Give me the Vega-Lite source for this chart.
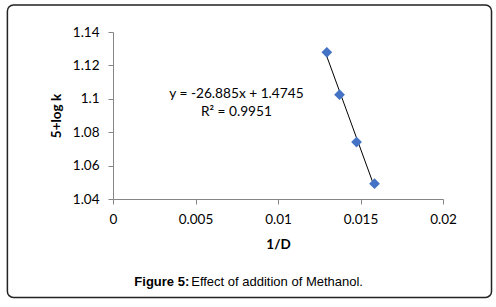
{
  "$schema": "https://vega.github.io/schema/vega-lite/v6.json",
  "width": 330,
  "height": 167,
  "padding": {"left": 6, "top": 4, "right": 4, "bottom": 8},
  "background": "white",
  "config": {
    "view": {"stroke": null},
    "font": "Lato",
    "axis": {"grid": false, "domainColor": "#868686", "tickColor": "#868686", "tickSize": 5, "labelColor": "#000000", "labelFont": "Lato", "labelFontSize": 13.5, "labelOverlap": false, "labelFlush": false, "titleFont": "Lato", "titleFontSize": 13.5, "titleFontWeight": "bold", "titleColor": "#000000"},
    "axisX": {"format": "~g", "labelPadding": 8, "titlePadding": 12},
    "axisY": {"format": "~g", "labelPadding": 9, "titlePadding": 9}
  },
  "datasets": {
    "points": [
      {"invD": 0.01296, "logk": 1.1278},
      {"invD": 0.01373, "logk": 1.1025},
      {"invD": 0.01476, "logk": 1.0741},
      {"invD": 0.01585, "logk": 1.0492}
    ]
  },
  "layer": [
    {
      "data": {"values": [{}]},
      "mark": {"type": "rect", "fill": null, "stroke": "#222222", "strokeWidth": 1.5, "cornerRadius": 6},
      "encoding": {
        "x": {"datum": -0.0064, "type": "quantitative", "title": "1/D",
          "scale": {"domain": [0, 0.02], "nice": false, "zero": false},
          "axis": {"values": [0, 0.005, 0.01, 0.015, 0.02]}},
        "x2": {"datum": 0.02294},
        "y": {"datum": 1.15617, "type": "quantitative", "title": "5+log k",
          "scale": {"domain": [1.04, 1.14], "nice": false, "zero": false},
          "axis": {"values": [1.04, 1.06, 1.08, 1.1, 1.12, 1.14]}},
        "y2": {"datum": 0.98108}
      }
    },
    {
      "data": {"name": "points"},
      "transform": [{"regression": "logk", "on": "invD", "method": "linear"}],
      "mark": {"type": "line", "color": "#000000", "strokeWidth": 1},
      "encoding": {
        "x": {"field": "invD", "type": "quantitative", "title": "1/D", "axis": {"values": [0, 0.005, 0.01, 0.015, 0.02]}},
        "y": {"field": "logk", "type": "quantitative", "title": "5+log k", "axis": {"values": [1.04, 1.06, 1.08, 1.1, 1.12, 1.14]}}
      }
    },
    {
      "data": {"name": "points"},
      "mark": {"type": "point", "shape": "diamond", "filled": true, "color": "#4472C4", "size": 115, "opacity": 1},
      "encoding": {
        "x": {"field": "invD", "type": "quantitative", "title": "1/D", "axis": {"values": [0, 0.005, 0.01, 0.015, 0.02]}},
        "y": {"field": "logk", "type": "quantitative", "title": "5+log k", "axis": {"values": [1.04, 1.06, 1.08, 1.1, 1.12, 1.14]}}
      }
    },
    {
      "data": {"values": [{}]},
      "mark": {"type": "text", "fontSize": 13.7, "font": "Lato", "align": "center", "baseline": "middle", "color": "#000000"},
      "encoding": {
        "x": {"datum": 0.00748, "type": "quantitative", "title": "1/D", "axis": {"values": [0, 0.005, 0.01, 0.015, 0.02]}},
        "y": {"datum": 1.1029, "type": "quantitative", "title": "5+log k", "axis": {"values": [1.04, 1.06, 1.08, 1.1, 1.12, 1.14]}},
        "text": {"value": "y = -26.885x + 1.4745"}
      }
    },
    {
      "data": {"values": [{}]},
      "mark": {"type": "text", "fontSize": 13.7, "font": "Lato", "align": "center", "baseline": "middle", "color": "#000000"},
      "encoding": {
        "x": {"datum": 0.00748, "type": "quantitative", "title": "1/D", "axis": {"values": [0, 0.005, 0.01, 0.015, 0.02]}},
        "y": {"datum": 1.0921, "type": "quantitative", "title": "5+log k", "axis": {"values": [1.04, 1.06, 1.08, 1.1, 1.12, 1.14]}},
        "text": {"value": "R² = 0.9951"}
      }
    },
    {
      "data": {"values": [{}]},
      "mark": {"type": "text", "fontSize": 13, "font": "Liberation Sans", "fontWeight": "bold", "align": "right", "baseline": "middle", "color": "#000000"},
      "encoding": {
        "x": {"datum": 0.00462, "type": "quantitative", "title": "1/D", "axis": {"values": [0, 0.005, 0.01, 0.015, 0.02]}},
        "y": {"datum": 0.9905, "type": "quantitative", "title": "5+log k", "axis": {"values": [1.04, 1.06, 1.08, 1.1, 1.12, 1.14]}},
        "text": {"value": "Figure 5:"}
      }
    },
    {
      "data": {"values": [{}]},
      "mark": {"type": "text", "fontSize": 13, "font": "Liberation Sans", "align": "left", "baseline": "middle", "color": "#000000"},
      "encoding": {
        "x": {"datum": 0.00474, "type": "quantitative", "title": "1/D", "axis": {"values": [0, 0.005, 0.01, 0.015, 0.02]}},
        "y": {"datum": 0.9905, "type": "quantitative", "title": "5+log k", "axis": {"values": [1.04, 1.06, 1.08, 1.1, 1.12, 1.14]}},
        "text": {"value": "Effect of addition of Methanol."}
      }
    }
  ]
}
